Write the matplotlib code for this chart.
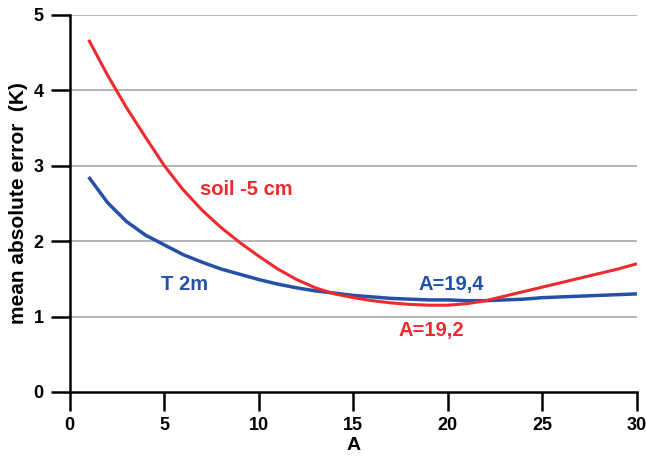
import matplotlib
matplotlib.use("Agg")
import matplotlib.pyplot as plt

plt.rcParams["font.family"] = ["Liberation Sans", "DejaVu Sans"]
plt.rcParams["font.weight"] = "bold"

RED = "#ee2a2e"
BLUE = "#2450a8"

A = list(range(1, 31))
soil = [4.67, 4.20, 3.77, 3.38, 3.00, 2.68, 2.41, 2.18, 1.98, 1.80,
        1.63, 1.49, 1.38, 1.30, 1.25, 1.21, 1.18, 1.16, 1.15, 1.15,
        1.17, 1.21, 1.27, 1.33, 1.39, 1.45, 1.51, 1.57, 1.63, 1.70]
t2m = [2.85, 2.51, 2.26, 2.08, 1.95, 1.82, 1.72, 1.63, 1.56, 1.49,
       1.43, 1.38, 1.34, 1.31, 1.28, 1.26, 1.24, 1.23, 1.22, 1.22,
       1.21, 1.21, 1.22, 1.23, 1.25, 1.26, 1.27, 1.28, 1.29, 1.30]
xticks = [0, 5, 10, 15, 20, 25, 30]
yticks = [0, 1, 2, 3, 4, 5]

fig = plt.figure(figsize=(6.46, 4.66), dpi=100)
ax = fig.add_axes([0.108, 0.159, 0.878, 0.809])

for v in yticks[1:]:
    ax.axhline(v, color="#b4b4b4", lw=1.4, zorder=0)

ax.plot(A, t2m, color=BLUE, lw=2.5, solid_capstyle="butt", solid_joinstyle="round")
ax.plot(A, soil, color=RED, lw=2.2, solid_capstyle="butt", solid_joinstyle="round")

ax.set_xlim(0, 30)
ax.set_ylim(0, 5)
ax.set_xticks(xticks)
ax.set_yticks(yticks)
for s in ["top", "right"]:
    ax.spines[s].set_visible(False)
for s in ["left", "bottom"]:
    ax.spines[s].set_linewidth(1.8)
ax.tick_params(direction="out", length=14, width=1.8, labelsize=13)
ax.tick_params(axis="x", pad=4)
ax.tick_params(axis="y", pad=5)
for lab in ax.get_xticklabels() + ax.get_yticklabels():
    lab.set_fontweight("bold")

ax.set_xlabel("A", fontsize=14, fontweight="bold", labelpad=2)
ax.set_ylabel("mean absolute error  (K)", fontsize=15, fontweight="bold", labelpad=4)

ax.text(6.9, 2.68, "soil -5 cm", color=RED, fontsize=14.5, fontweight="bold", va="center")
ax.text(4.8, 1.42, "T 2m", color=BLUE, fontsize=14.5, fontweight="bold", va="center")
ax.text(20.2, 1.43, "A=19,4", color=BLUE, fontsize=14.5, fontweight="bold", ha="center", va="center")
ax.text(19.1, 0.82, "A=19,2", color=RED, fontsize=14.5, fontweight="bold", ha="center", va="center")

fig.savefig("out.png", dpi=100, facecolor="white")
